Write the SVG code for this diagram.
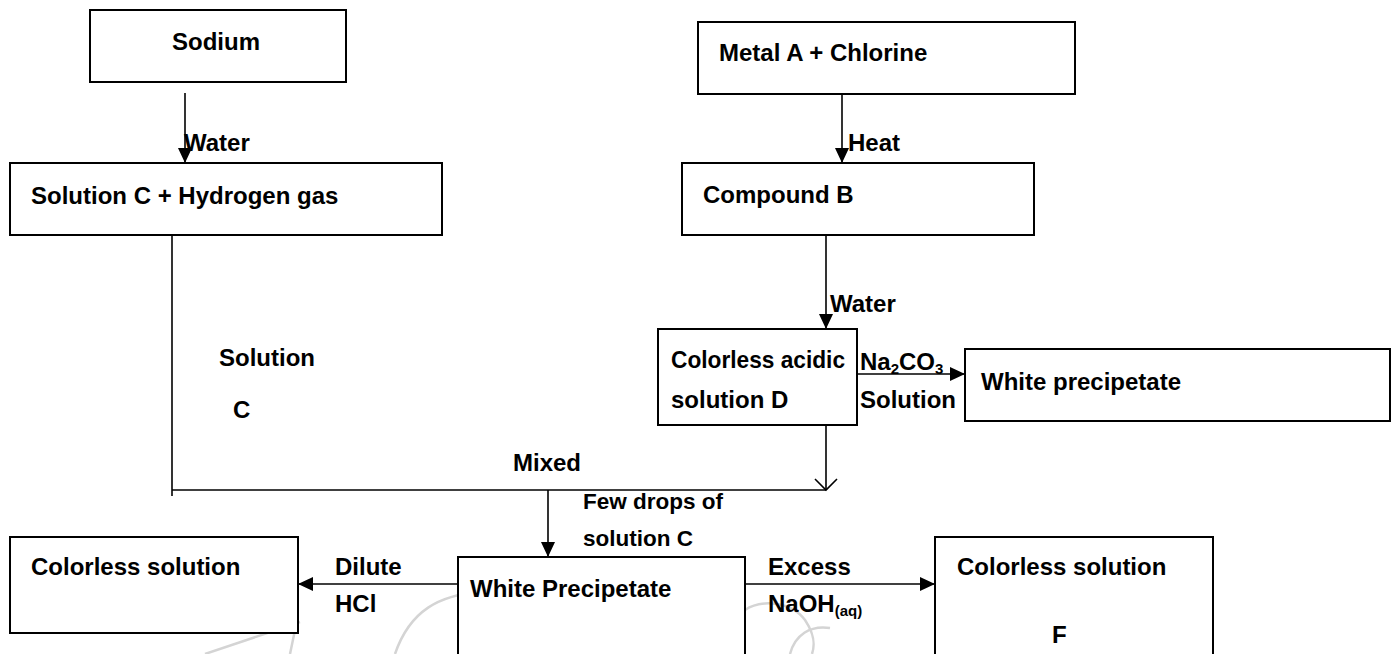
<svg xmlns="http://www.w3.org/2000/svg" width="1392" height="654" viewBox="0 0 1392 654">
<style>
  .box{fill:#fff;stroke:#000;stroke-width:2}
  .t{font-family:"Liberation Sans",Arial,sans-serif;font-weight:bold;font-size:24px;fill:#000}
  .s{font-size:22.5px}
  .sub{font-size:15px}
  .ln{fill:none;stroke:#000;stroke-width:1.6}
  .arr{fill:none;stroke:#000;stroke-width:1.6;marker-end:url(#ah)}
  .wm{fill:none;stroke:#d4d4d4;stroke-width:2.5}
</style>
<defs>
  <marker id="ah" markerUnits="userSpaceOnUse" markerWidth="15" markerHeight="14" refX="15" refY="7" orient="auto">
    <path d="M0,0 L15,7 L0,14 Z" fill="#000"/>
  </marker>
</defs>
<rect width="1392" height="654" fill="#fff"/>
<g id="watermark">
  <path class="wm" d="M205,654 L300,622"/>
  <path class="wm" d="M295,630 L290,654"/>
  <path class="wm" d="M395,654 C410,610 440,595 480,592 C520,588 560,588 620,600 C660,610 690,630 705,654"/>
  <path class="wm" d="M462,654 C480,635 510,625 540,625 C570,625 600,640 610,654"/>
  <path class="wm" d="M745,610 C760,600 790,600 805,620 C815,635 815,645 812,654"/>
  <path class="wm" d="M790,654 C795,635 810,625 830,628"/>
  <path class="wm" d="M950,654 L963,640 L980,654"/>
</g>
<g id="connectors">
  <path class="arr" d="M185,93 V163"/>
  <path class="arr" d="M842,94 V163"/>
  <path class="arr" d="M826,235 V329"/>
  <path class="ln" d="M172,235 V496"/>
  <path class="ln" d="M172,490 H826"/>
  <path class="ln" d="M826,425 V490"/>
  <path class="ln" d="M815,479 L826,490 L837,479"/>
  <path class="arr" d="M548,490 V557"/>
  <path class="arr" d="M857,374 H965"/>
  <path class="arr" d="M458,584 H298"/>
  <path class="arr" d="M745,584 H935"/>
</g>
<g id="labels">
  <text class="t" x="184" y="151">Water</text>
  <text class="t" x="848" y="151">Heat</text>
  <text class="t" x="830" y="312">Water</text>
  <text class="t" x="860" y="370">Na<tspan class="sub" dy="4">2</tspan><tspan dy="-4">CO</tspan><tspan class="sub" dy="4">3</tspan></text>
  <text class="t" x="860" y="408">Solution</text>
  <text class="t" x="219" y="366">Solution</text>
  <text class="t" x="233" y="418">C</text>
  <text class="t" x="513" y="471">Mixed</text>
  <text class="t s" x="583" y="509">Few drops of</text>
  <text class="t s" x="583" y="546">solution C</text>
  <text class="t" x="335" y="575">Dilute</text>
  <text class="t" x="335" y="612">HCl</text>
  <text class="t" x="768" y="575">Excess</text>
  <text class="t" x="768" y="612">NaOH<tspan class="sub" dy="4">(aq)</tspan></text>
</g>
<g id="sodium">
  <rect class="box" x="90" y="10" width="256" height="72"/>
  <text class="t" x="172" y="50">Sodium</text>
</g>
<g id="solution-c">
  <rect class="box" x="10" y="163" width="432" height="72"/>
  <text class="t" x="31" y="204">Solution C + Hydrogen gas</text>
</g>
<g id="metal-a">
  <rect class="box" x="698" y="22" width="377" height="72"/>
  <text class="t" x="719" y="61">Metal A + Chlorine</text>
</g>
<g id="compound-b">
  <rect class="box" x="682" y="163" width="352" height="72"/>
  <text class="t" x="703" y="203">Compound B</text>
</g>
<g id="solution-d">
  <rect class="box" x="658" y="329" width="199" height="96"/>
  <text class="t" x="671" y="368" textLength="174" lengthAdjust="spacingAndGlyphs">Colorless acidic</text>
  <text class="t" x="671" y="408">solution D</text>
</g>
<g id="white-precipitate-1">
  <rect class="box" x="965" y="349" width="425" height="72"/>
  <text class="t" x="981" y="390">White precipetate</text>
</g>
<g id="colorless-solution">
  <rect class="box" x="10" y="537" width="288" height="96"/>
  <text class="t" x="31" y="575">Colorless solution</text>
</g>
<g id="white-precipitate-2">
  <rect class="box" x="458" y="557" width="287" height="110"/>
  <text class="t" x="470" y="597">White Precipetate</text>
</g>
<g id="colorless-solution-f">
  <rect class="box" x="935" y="537" width="278" height="130"/>
  <text class="t" x="957" y="575">Colorless solution</text>
  <text class="t" x="1052" y="643">F</text>
</g>
</svg>
